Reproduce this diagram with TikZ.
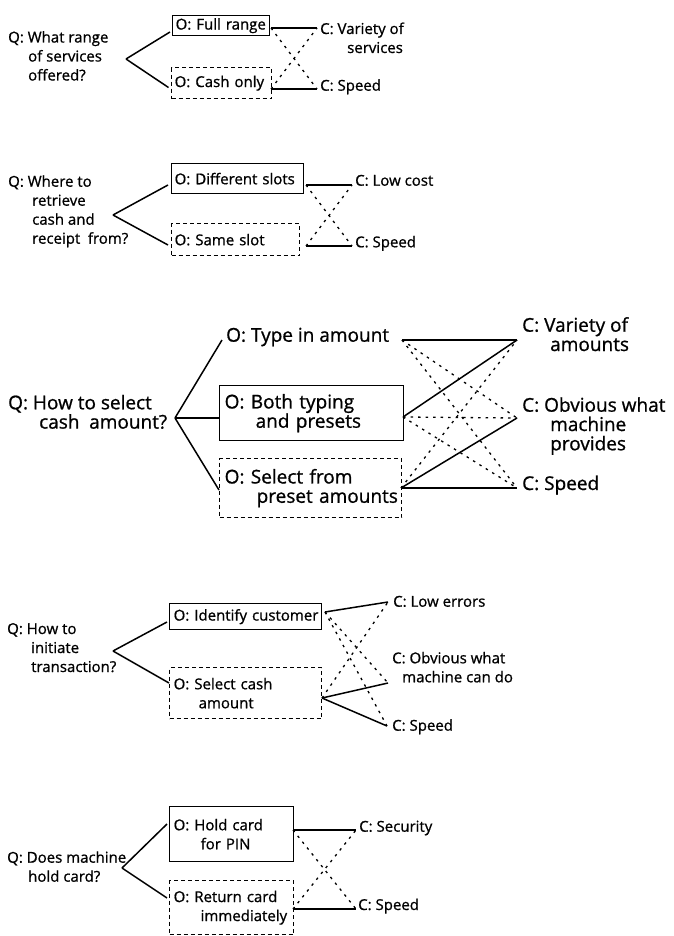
\documentclass[tikz,border=0pt]{standalone}
\usepackage{fontspec}
\setmainfont{Open Sans}[FakeBold=0.9]
% a stack of text lines, aligned on the first baseline, fixed pitch
\newcommand{\linesof}[1]{\vtop{\lineskiplimit=-\maxdimen\lineskip=0pt #1}}
\newcommand{\tline}[2][0pt]{\hbox{\hskip#1\relax #2}}
\begin{document}
\begin{tikzpicture}[x=1pt,y=-1pt,
  normal/.style={font=\fontsize{15}{19}\selectfont},
  large/.style={font=\fontsize{19}{19.3}\selectfont},
  txt/.style={inner sep=0pt, anchor=base west},
  optbox/.style={draw, line width=1.3pt, inner ysep=0pt, inner xsep=3pt,
                 anchor=north west, align=left},
  optdash/.style={optbox, dash pattern=on 4pt off 3pt},
  link/.style={line width=1.5pt},
  weak/.style={line width=1.3pt, dash pattern=on 2.5pt off 5pt},
]
\useasboundingbox (0,0) rectangle (673,936);

% ---------- range of services ----------
\begin{scope}[every node/.append style={normal}]
\node[txt] (q1) at (8,42.5) {\linesof{\tline{Q: What range}\tline[20pt]{of services}\tline[20pt]{offered?}}};
\node[optbox, text width=91pt, minimum height=20pt] (o11) at (172,15) {\tline{O: Full range}};
\node[optdash, text width=94pt, minimum height=31pt] (o12) at (171,67) {\tline{O: Cash only}};
\node[txt] (c11) at (320,34) {\linesof{\tline{C: Variety of}\tline[27pt]{services}}};
\node[txt] (c12) at (320,90.7) {C: Speed};
\end{scope}
\coordinate (q1x) at (126,59);
\coordinate (o11l) at (170,32);   \coordinate (o12l) at (168.5,87.5);
\coordinate (o11r) at (271,28);   \coordinate (o12r) at (271,89);
\coordinate (c11l) at (317,28);   \coordinate (c12l) at (317,89);
\draw[link] (q1x) -- (o11l);
\draw[link] (q1x) -- (o12l);
\draw[link] (o11r) -- (c11l);
\draw[link] (o12r) -- (c12l);
\draw[weak] (o11r) -- (c12l);
\draw[weak] (o12r) -- (c11l);

% ---------- cash and receipt slot ----------
\begin{scope}[every node/.append style={normal}]
\node[txt] (q2) at (8,186.7) {\linesof{\tline{Q: Where to}\tline[24pt]{retrieve}\tline[24pt]{cash and}\tline[24pt]{receipt\hspace{0.25em} from?}}};
\node[optbox, text width=126pt, minimum height=30pt] (o21) at (171,163) {\tline{O: Different slots}};
\node[optdash, text width=122pt, minimum height=32pt] (o22) at (171,223) {\tline{O: Same slot}};
\node[txt] (c21) at (355,185.7) {C: Low cost};
\node[txt] (c22) at (355,247.3) {C: Speed};
\end{scope}
\coordinate (q2x) at (113,215);
\coordinate (o21l) at (168,185);  \coordinate (o22l) at (168,245);
\coordinate (o21r) at (306,185);  \coordinate (o22r) at (306,246);
\coordinate (c21l) at (352,185);  \coordinate (c22l) at (352,246);
\draw[link] (q2x) -- (o21l);
\draw[link] (q2x) -- (o22l);
\draw[link] (o21r) -- (c21l);
\draw[link] (o22r) -- (c22l);
\draw[weak] (o21r) -- (c22l);
\draw[weak] (o22r) -- (c21l);

% ---------- selecting the cash amount ----------
\begin{scope}[every node/.append style={large}]
\node[txt] (q3) at (8,409.3) {\linesof{\tline{Q: How to select}\tline[31pt]{cash\hspace{0.25em} amount?}}};
\node[txt] (o31) at (226,341.7) {O: Type in amount};
\node[optbox, inner xsep=5pt, text width=174pt, minimum height=55pt] (o32) at (219,385) {\linesof{\tline{O: Both typing}\tline[31pt]{and presets}}};
\node[optdash, inner xsep=5pt, text width=172pt, minimum height=59pt] (o33) at (219,458) {\linesof{\tline{O: Select from}\tline[32pt]{preset amounts}}};
\node[txt] (c31) at (522,331.7) {\linesof{\tline{C: Variety of}\tline[28pt]{amounts}}};
\node[txt] (c32) at (522,411.7) {\linesof{\tline{C: Obvious what}\tline[28pt]{machine}\tline[28pt]{provides}}};
\node[txt] (c33) at (522,490) {C: Speed};
\end{scope}
\coordinate (q3x) at (175,418);
\coordinate (o31l) at (222,340);  \coordinate (o32l) at (219,418);  \coordinate (o33l) at (219,490);
\coordinate (o31r) at (402,340);  \coordinate (o32r) at (403,417);  \coordinate (o33r) at (401,488);
\coordinate (c31l) at (517,340);  \coordinate (c32l) at (517,418);  \coordinate (c33l) at (517,488);
\draw[link] (q3x) -- (o31l);
\draw[link] (q3x) -- (o32l);
\draw[link] (q3x) -- (o33l);
\draw[link] (o31r) -- (c31l);
\draw[link] (o32r) -- (c31l);
\draw[link] (o33r) -- (c32l);
\draw[link] (o33r) -- (c33l);
\draw[weak] (o31r) -- (c32l);
\draw[weak] (o31r) -- (c33l);
\draw[weak] (o32r) -- (c32l);
\draw[weak] (o32r) -- (c33l);
\draw[weak] (o33r) -- (c31l);

% ---------- starting the transaction ----------
\begin{scope}[every node/.append style={normal}]
\node[txt] (q4) at (7,634) {\linesof{\tline{Q: How to}\tline[24pt]{initiate}\tline[24pt]{transaction?}}};
\node[optbox, inner xsep=4pt, text width=144pt, minimum height=26pt] (o41) at (169,603) {\tline{O: Identify customer}};
\node[optdash, inner xsep=4pt, text width=144pt, minimum height=51pt] (o42) at (169,667) {\linesof{\tline{O: Select cash}\tline[25pt]{amount}}};
\node[txt] (c41) at (393,606.7) {C: Low errors};
\node[txt] (c42) at (392,663.3) {\linesof{\tline{C: Obvious what}\tline[10pt]{machine can do}}};
\node[txt] (c43) at (392,730.7) {C: Speed};
\end{scope}
\coordinate (q4x) at (113,651);
\coordinate (o41l) at (167,622);  \coordinate (o42l) at (169,683);
\coordinate (o41r) at (325,612);  \coordinate (o42r) at (322,698);
\coordinate (c41l) at (388,602);  \coordinate (c42l) at (388,683);  \coordinate (c43l) at (387,726);
\draw[link] (q4x) -- (o41l);
\draw[link] (q4x) -- (o42l);
\draw[link] (o41r) -- (c41l);
\draw[link] (o42r) -- (c42l);
\draw[link] (o42r) -- (c43l);
\draw[weak] (o41r) -- (c42l);
\draw[weak] (o41r) -- (c43l);
\draw[weak] (o42r) -- (c41l);

% ---------- holding the card ----------
\begin{scope}[every node/.append style={normal}]
\node[txt] (q5) at (7,862.7) {\linesof{\tline{Q: Does machine}\tline[21pt]{hold card?}}};
\node[optbox, inner xsep=4pt, text width=116pt, minimum height=55pt] (o51) at (169,806) {\linesof{\tline{O: Hold card}\tline[27pt]{for PIN}}};
\node[optdash, inner xsep=4pt, text width=116pt, minimum height=54pt] (o52) at (169,880) {\linesof{\tline{O: Return card}\tline[27pt]{immediately}}};
\node[txt] (c51) at (359,831.7) {C: Security};
\node[txt] (c52) at (358,910) {C: Speed};
\end{scope}
\coordinate (q5x) at (122,868);
\coordinate (o51l) at (167,824);  \coordinate (o52l) at (167,898);
\coordinate (o51r) at (293,830);  \coordinate (o52r) at (293,909);
\coordinate (c51l) at (356,830);  \coordinate (c52l) at (356,909);
\draw[link] (q5x) -- (o51l);
\draw[link] (q5x) -- (o52l);
\draw[link] (o51r) -- (c51l);
\draw[link] (o52r) -- (c52l);
\draw[weak] (o51r) -- (c52l);
\draw[weak] (o52r) -- (c51l);
\end{tikzpicture}
\end{document}
